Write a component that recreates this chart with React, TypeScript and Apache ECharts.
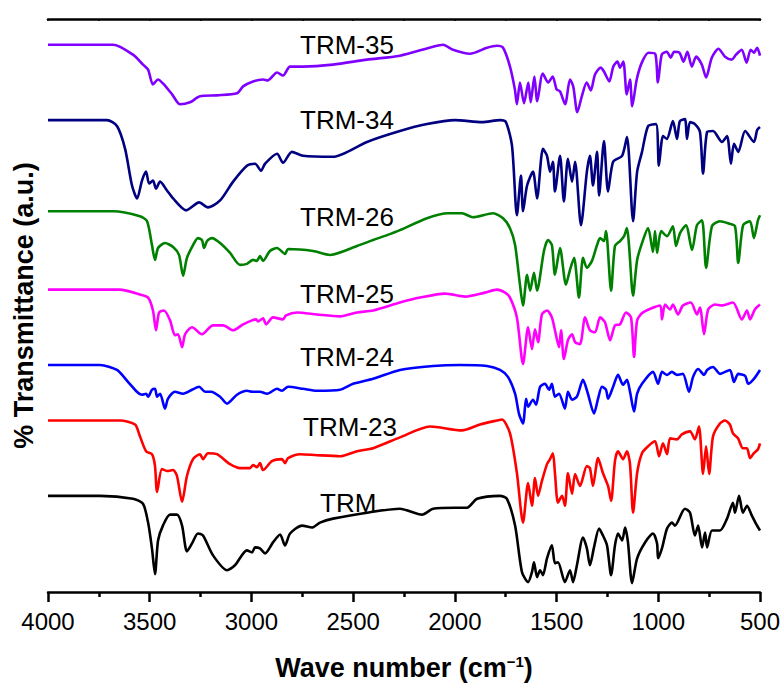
import React, { useEffect, useRef } from "react";
import * as echarts from "echarts";

// x: wavenumber (cm-1), y: stacked transmittance (a.u.)
const trm35: [number, number][] = [
  [4000,552],[3680,552],[3582,542],[3533,532],[3508,527],[3484,512],[3459,517],[3435,513],[3390,502],[3351,492],[3302,494],[3253,500],[3170,501],[3071,503],[3041,510],[2992,515],[2943,517],[2920,516],[2874,524],[2845,521],[2810,530],[2746,530],[2599,532],[2432,537],[2270,541],[2107,550],[2058,552],[2009,547],[1926,543],[1842,549],[1793,551],[1763,549],[1729,530],[1705,507],[1695,492],[1680,514],[1660,493],[1639,514],[1627,494],[1609,520],[1595,495],[1568,523],[1541,514],[1519,520],[1500,507],[1483,505],[1458,492],[1434,517],[1418,510],[1398,484],[1376,500],[1352,514],[1332,506],[1311,522],[1283,529],[1267,525],[1241,515],[1221,530],[1201,535],[1188,529],[1172,535],[1155,502],[1139,517],[1128,490],[1106,517],[1081,534],[1048,544],[1015,543],[1002,514],[983,542],[958,545],[939,539],[922,545],[896,544],[876,535],[857,545],[835,530],[814,540],[786,532],[765,519],[737,539],[704,548],[672,540],[639,537],[618,542],[590,547],[566,534],[546,547],[530,544],[514,549],[500,541]
];
const trm34: [number, number][] = [
  [4000,476],[3710,476],[3661,470],[3621,447],[3587,410],[3562,397],[3538,415],[3518,424],[3503,412],[3484,415],[3469,407],[3449,414],[3415,405],[3385,397],[3321,385],[3257,393],[3214,388],[3154,395],[3090,414],[3022,430],[2982,432],[2953,425],[2933,432],[2874,442],[2845,433],[2801,444],[2746,440],[2599,439],[2432,454],[2270,465],[2137,472],[2000,476],[1866,474],[1778,476],[1749,474],[1719,450],[1695,380],[1675,420],[1665,384],[1645,410],[1616,424],[1596,397],[1567,447],[1547,440],[1532,424],[1518,434],[1508,404],[1483,440],[1464,394],[1444,437],[1424,414],[1409,434],[1380,370],[1351,424],[1336,440],[1321,410],[1301,444],[1291,400],[1267,455],[1247,404],[1222,434],[1178,440],[1154,459],[1124,374],[1104,424],[1080,444],[1050,470],[1011,472],[997,430],[977,460],[958,457],[928,475],[908,457],[894,475],[869,477],[859,457],[844,474],[820,472],[795,464],[780,422],[760,464],[731,465],[687,454],[662,460],[643,432],[628,452],[607,444],[573,465],[530,454],[514,466],[500,469]
];
const trm26: [number, number][] = [
  [4000,384],[3680,384],[3548,379],[3513,374],[3489,350],[3474,335],[3459,347],[3425,352],[3385,348],[3356,340],[3336,319],[3317,337],[3287,350],[3263,357],[3243,355],[3233,347],[3218,354],[3194,357],[3154,352],[3105,342],[3056,330],[3022,331],[2992,335],[2973,334],[2958,339],[2943,334],[2909,344],[2874,347],[2835,341],[2820,346],[2697,344],[2614,340],[2481,349],[2402,355],[2333,360],[2270,365],[2137,377],[2034,382],[1965,382],[1911,378],[1812,382],[1763,377],[1729,367],[1704,350],[1680,310],[1665,289],[1645,320],[1630,304],[1611,322],[1596,304],[1562,344],[1542,355],[1523,350],[1508,320],[1483,347],[1454,310],[1434,325],[1414,337],[1390,297],[1370,337],[1351,327],[1326,334],[1301,350],[1286,357],[1267,354],[1257,364],[1232,304],[1213,349],[1188,354],[1168,359],[1154,367],[1144,350],[1124,299],[1104,335],[1075,355],[1050,367],[1026,343],[1016,364],[1006,342],[986,364],[957,359],[928,369],[913,349],[893,362],[864,370],[834,345],[810,370],[785,375],[765,327],[736,369],[697,374],[657,372],[623,369],[607,332],[583,370],[549,374],[530,357],[510,375],[500,380]
];
const trm25: [number, number][] = [
  [4000,305],[3646,305],[3548,300],[3508,297],[3484,284],[3469,264],[3454,282],[3430,284],[3400,274],[3376,259],[3361,260],[3341,247],[3326,260],[3292,267],[3243,260],[3189,269],[3139,269],[3090,264],[3041,270],[2997,274],[2977,275],[2968,273],[2943,276],[2928,270],[2894,277],[2845,275],[2830,279],[2776,282],[2678,280],[2564,278],[2481,282],[2402,284],[2270,292],[2171,297],[2048,301],[1950,298],[1852,302],[1793,305],[1753,302],[1729,297],[1695,277],[1665,230],[1640,267],[1621,245],[1606,265],[1591,252],[1572,280],[1547,284],[1523,277],[1508,264],[1488,247],[1478,264],[1464,235],[1444,254],[1424,260],[1409,252],[1385,250],[1360,277],[1336,264],[1311,262],[1286,277],[1262,272],[1237,254],[1213,269],[1188,270],[1159,282],[1134,277],[1119,237],[1104,274],[1075,282],[991,289],[982,275],[967,290],[942,285],[928,290],[903,280],[879,289],[840,292],[810,280],[795,287],[775,260],[755,285],[721,290],[687,289],[633,292],[589,275],[564,284],[549,275],[525,285],[500,290]
];
const trm24: [number, number][] = [
  [4000,229],[3744,229],[3661,224],[3607,212],[3563,202],[3538,199],[3518,200],[3508,197],[3489,204],[3474,205],[3464,197],[3449,200],[3425,185],[3410,195],[3376,202],[3336,200],[3292,204],[3257,207],[3228,202],[3199,202],[3154,197],[3120,190],[3071,199],[3022,203],[2997,202],[2958,202],[2923,200],[2874,205],[2850,203],[2820,207],[2746,205],[2678,203],[2564,204],[2500,210],[2402,215],[2270,224],[2107,228],[1974,229],[1842,228],[1778,224],[1739,217],[1704,200],[1685,180],[1665,170],[1650,195],[1640,187],[1616,194],[1601,189],[1581,207],[1557,210],[1537,204],[1523,210],[1508,197],[1488,200],[1459,185],[1444,202],[1424,194],[1400,197],[1370,214],[1346,200],[1316,180],[1296,195],[1277,207],[1257,204],[1247,195],[1222,207],[1198,219],[1173,209],[1154,214],[1139,202],[1119,182],[1104,200],[1080,210],[1026,222],[1001,210],[982,222],[958,219],[933,222],[908,219],[879,220],[849,202],[829,217],[804,225],[775,219],[760,224],[731,227],[697,220],[648,224],[628,212],[607,220],[573,218],[558,210],[530,215],[500,224]
];
const trm23: [number, number][] = [
  [4000,173],[3646,173],[3572,169],[3548,157],[3518,142],[3489,139],[3474,127],[3464,101],[3440,124],[3415,122],[3385,123],[3366,117],[3341,91],[3317,117],[3287,134],[3253,139],[3238,134],[3214,140],[3169,139],[3105,129],[3056,125],[3007,125],[2992,128],[2973,126],[2958,130],[2943,123],[2899,132],[2850,134],[2835,130],[2820,135],[2761,139],[2678,138],[2564,137],[2481,142],[2402,145],[2270,156],[2122,167],[1965,163],[1876,169],[1793,173],[1768,174],[1729,160],[1695,120],[1665,70],[1640,110],[1621,87],[1606,115],[1591,97],[1572,112],[1547,129],[1532,134],[1518,140],[1508,120],[1493,90],[1473,97],[1459,87],[1444,120],[1424,99],[1409,119],[1385,107],[1351,127],[1336,125],[1321,107],[1296,135],[1272,120],[1247,107],[1232,92],[1213,132],[1198,142],[1173,134],[1154,142],[1139,129],[1124,80],[1104,120],[1080,140],[1050,147],[1016,152],[996,137],[977,150],[957,139],[942,155],[908,154],[884,159],[844,162],[820,154],[800,167],[780,119],[765,147],[750,119],[731,157],[697,170],[672,173],[648,169],[633,160],[608,155],[584,145],[564,145],[549,135],[530,140],[510,144],[500,150]
];
const trm: [number, number][] = [
  [4000,97],[3744,97],[3582,94],[3533,89],[3508,70],[3489,44],[3474,18],[3459,52],[3435,67],[3400,78],[3366,78],[3341,67],[3317,41],[3292,49],[3263,59],[3238,57],[3189,37],[3120,22],[3081,27],[3022,42],[2997,40],[2982,45],[2958,44],[2933,39],[2894,50],[2859,58],[2835,47],[2810,59],[2751,67],[2702,65],[2663,70],[2599,74],[2432,80],[2270,84],[2161,78],[2107,84],[2000,85],[1940,85],[1891,94],[1778,97],[1744,94],[1704,67],[1670,20],[1640,10],[1621,20],[1611,30],[1596,15],[1581,22],[1567,17],[1547,34],[1523,47],[1508,29],[1493,30],[1459,10],[1434,22],[1419,10],[1400,27],[1370,55],[1351,44],[1336,27],[1316,45],[1291,64],[1272,57],[1252,47],[1232,17],[1213,47],[1198,59],[1178,52],[1163,65],[1149,50],[1129,9],[1104,34],[1065,50],[1026,59],[1006,49],[1001,34],[982,44],[957,64],[933,70],[918,67],[869,84],[844,80],[820,57],[804,67],[785,45],[770,60],[760,45],[736,62],[697,62],[662,74],[633,90],[623,80],[603,97],[584,80],[564,87],[540,77],[520,69],[500,62]
];

const seriesNames = ["TRM-35", "TRM-34", "TRM-26", "TRM-25", "TRM-24", "TRM-23", "TRM"];
const seriesData = [trm35, trm34, trm26, trm25, trm24, trm23, trm];
const seriesColors = ["#8000ff", "#000080", "#008000", "#ff00ff", "#0000ff", "#ff0000", "#000000"];

const FONT = '"Liberation Sans", Arial, Helvetica, sans-serif';

// label anchor positions (px) for each spectrum's name
const labelPos: [number, number][] = [
  [300, 45], [300, 120], [300, 217], [300, 294], [300, 357], [303, 427], [320, 503],
];

export default function App() {
  const ref = useRef<HTMLDivElement>(null);
  useEffect(() => {
    if (!ref.current) return;
    const chart = echarts.init(ref.current, null, { renderer: "svg" });
    chart.setOption({
      animation: false,
      backgroundColor: "#fff",
      textStyle: { fontFamily: FONT },
      grid: { left: 48, right: 24, top: 19, bottom: 89 },
      xAxis: [
        {
          type: "value",
          min: 500,
          max: 4000,
          interval: 500,
          inverse: true,
          position: "bottom",
          name: "Wave number (cm{sup|\u22121})",
          nameLocation: "middle",
          nameGap: 62,
          nameTextStyle: {
            fontSize: 27,
            fontWeight: "bold",
            color: "#000",
            fontFamily: FONT,
            rich: {
              sup: { fontSize: 15, fontWeight: "bold", verticalAlign: "top", padding: [0, 0, 10, 0], color: "#000", fontFamily: FONT },
            },
          },
          axisLine: { show: true, lineStyle: { color: "#000", width: 2.5 } },
          axisTick: { show: true, length: 10, lineStyle: { color: "#000", width: 2.5 } },
          minorTick: { show: true, splitNumber: 2, length: 5, lineStyle: { color: "#000", width: 2.5 } },
          axisLabel: { fontSize: 24, color: "#000", margin: 17, fontFamily: FONT, formatter: (v: number) => String(v) },
          splitLine: { show: false },
        },
        {
          type: "value",
          min: 500,
          max: 4000,
          interval: 250,
          inverse: true,
          position: "top",
          axisLine: { show: true, lineStyle: { color: "#000", width: 2.5 } },
          axisTick: { show: true, inside: true, length: 2, lineStyle: { color: "#000", width: 1.5 } },
          axisLabel: { show: false },
          splitLine: { show: false },
        },
      ],
      yAxis: {
        type: "value",
        min: 0,
        max: 578,
        name: "% Transmittance (a.u.)",
        nameLocation: "middle",
        nameGap: 11,
        nameTextStyle: { fontSize: 27, fontWeight: "bold", color: "#000", fontFamily: FONT },
        axisLine: { show: false },
        axisTick: { show: false },
        axisLabel: { show: false },
        splitLine: { show: false },
      },
      series: seriesData.map((d, i) => ({
        name: seriesNames[i],
        type: "line",
        data: d,
        xAxisIndex: 0,
        showSymbol: false,
        symbol: "none",
        smooth: 0.25,
        lineStyle: { color: seriesColors[i], width: 2.6 },
        z: 2,
      })),
      graphic: seriesNames.map((n, i) => ({
        type: "text",
        x: labelPos[i][0],
        y: labelPos[i][1],
        style: {
          text: n,
          font: `26px ${FONT}`,
          fill: "#000",
          verticalAlign: "middle",
          align: "left",
        },
        z: 10,
      })),
    });
    return () => chart.dispose();
  }, []);
  return (
    <div
      ref={ref}
      style={{ position: "fixed", left: 0, top: 0, width: 784, height: 686, background: "#fff" }}
    />
  );
}
